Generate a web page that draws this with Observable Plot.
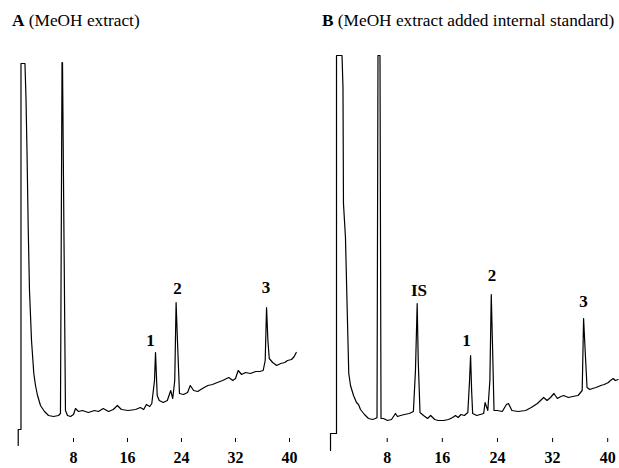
<!DOCTYPE html>
<html><head><meta charset="utf-8">
<script src="https://cdn.jsdelivr.net/npm/d3@7"></script>
<script src="https://cdn.jsdelivr.net/npm/@observablehq/plot@0.6"></script>
<style>
body{margin:0;background:#fff;}
#wrap{position:relative;width:619px;height:468px;overflow:hidden;background:#fff;}
.panel{position:absolute;top:0;}
.title{position:absolute;top:12px;line-height:17px;font-family:"Liberation Serif","Times New Roman",serif;font-size:17.3px;color:#000;white-space:nowrap;}
</style></head>
<body>
<div id="wrap">
  <div class="panel" id="pA" style="left:0"></div>
  <div class="panel" id="pB" style="left:310px"></div>
  <div class="title" style="left:12px"><b>A</b> (MeOH extract)</div>
  <div class="title" style="left:322px"><b>B</b> (MeOH extract added internal standard)</div>
</div>
<script>
// Retention time (min) and detector signal (arbitrary units) — panel A
const timeA = [-0.19,-0.19,0.22,0.22,0.81,0.96,1.11,1.29,1.48,1.78,2.12,2.37,2.67,3.11,3.70,4.30,5.04,5.78,6.07,6.30,6.37,6.81,7.11,
  7.56,8.0,8.30,8.74,9.33,10.2,11.1,11.7,12.4,13.2,13.9,14.5,15.1,16.1,17.2,17.9,18.4,18.8,19.3,19.6,20.0,20.15,20.4,20.7,21.3,21.9,22.4,22.7,
  23.0,23.2,23.4,23.7,24.3,24.9,25.3,25.8,26.4,27.1,27.9,28.6,29.3,30.1,31.0,31.6,32.0,32.4,32.9,33.5,34.2,35.0,35.6,36.1,36.4,36.6,36.8,37.0,
  37.5,38.1,38.7,39.3,39.7,40.3,40.7,41.0];
const signalA = [0,16,16,382,382,348,295,218,155,105,72,60,50,40,34,30,29,30,32,383,383,35,30,
  29,31,37,34,35,33,35,34,37,34,36,40,36,35,36,38,36,41,39,42,65,93,50,45,43,45,55,47,
  65,143,105,52,51,53,60,55,54,57,60,61,63,65,68,65,67,75,71,73,72,74,74,75,85,138,105,87,
  83,80,82,83,85,86,89,93];

// Panel B (with internal standard)
const timeB = [-0.23,-0.23,0.64,0.64,1.44,1.58,1.65,1.94,2.16,2.42,2.67,3.11,3.54,3.83,4.12,4.70,5.28,5.86,6.30,6.52,6.66,6.95,7.10,
  7.46,8.04,8.62,9.20,9.49,9.93,10.5,11.2,11.8,12.1,12.35,12.5,12.76,13.27,13.85,14.3,14.9,15.4,16.2,16.9,17.5,17.9,18.3,18.7,19.2,19.7,
  19.95,20.1,20.25,20.4,21.0,21.5,22.0,22.2,22.6,22.9,23.1,23.3,23.5,24.0,24.7,25.3,25.6,26.1,27.0,28.1,28.9,29.8,30.4,30.7,31.2,31.7,
  32.2,32.7,33.2,33.6,34.3,34.9,35.7,36.3,36.5,36.8,37.0,37.4,37.8,38.3,39.0,39.5,40.1,40.4,40.8,41.1,41.5];
const signalB = [0,17,17,395,395,363,247,213,150,77,65,55,48,46,41,36,32,31,32,33,395,395,32,
  32,30,31,37,34,35,36,37,39,80,147,90,38,35,32,35,31,30,30,31,33,35,33,36,35,38,
  70,95,60,37,35,36,37,48,40,70,156,100,40,40,39,46,47,40,39,40,43,47,51,53,50,53,
  57,52,54,55,53,54,55,60,132,90,63,61,62,63,65,66,68,70,72,70,71];

const tickValues = [8, 16, 24, 32, 40];

const peakLabelsA = ["1", "2", "3"];
const peakLabelTimeA = [19.4, 23.4, 36.5];
const peakLabelHeightA = [105, 157, 158];

const peakLabelsB = ["IS", "1", "2", "3"];
const peakLabelTimeB = [12.6, 19.5, 23.2, 36.5];
const peakLabelHeightB = [160, 110, 175, 149];

function panel(times, signals, labels, lt, lh, xRange, yDomain, yRange) {
  const trace = times.map((t, i) => ({t, v: signals[i]}));
  const ann = labels.map((s, i) => ({label: s, t: lt[i], v: lh[i]}));
  return Plot.plot({
    width: 309, height: 468,
    marginTop: 0, marginBottom: 30, marginLeft: 0, marginRight: 0,
    style: {fontFamily: "'Liberation Serif','Times New Roman',serif", fontSize: "16px", fontWeight: "bold", color: "#000", background: "transparent", overflow: "visible"},
    x: {domain: [0, 40], range: xRange},
    y: {domain: yDomain, range: yRange, axis: null},
    marks: [
      Plot.axisX({ticks: tickValues, tickSize: 4, tickPadding: 9, label: null, stroke: "#000", strokeWidth: 1, fill: "#000", fontSize: 16}),
      Plot.line(trace, {x: "t", y: "v", stroke: "#000", strokeWidth: 1.2, curve: "linear"}),
      Plot.text(ann, {x: "t", y: "v", text: "label", fontSize: 17, fontWeight: "bold", fill: "#000"})
    ]
  });
}

document.getElementById("pA").append(panel(timeA, signalA, peakLabelsA, peakLabelTimeA, peakLabelHeightA, [19, 289], [0, 383], [445, 62]));
document.getElementById("pB").append(panel(timeB, signalB, peakLabelsB, peakLabelTimeB, peakLabelHeightB, [21.6, 297.2], [0, 395], [450, 55]));
</script>
</body></html>
